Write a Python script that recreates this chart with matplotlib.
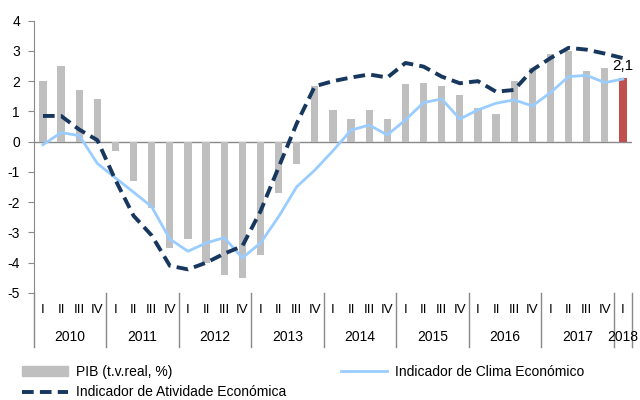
import numpy as np
import matplotlib.pyplot as plt
from matplotlib.lines import Line2D
from matplotlib.patches import Patch

plt.rcParams['font.family'] = ['Liberation Sans', 'DejaVu Sans']
plt.rcParams['axes.unicode_minus'] = False

# Dados (trimestrais, 2010 I - 2018 I)
anos = ['2010', '2011', '2012', '2013', '2014', '2015', '2016', '2017', '2018']
trimestres = ['I', 'II', 'III', 'IV']

pib = [2.0, 2.5, 1.7, 1.4, -0.3, -1.3, -2.2, -3.5, -3.2, -4.0, -4.4, -4.5,
       -3.75, -1.7, -0.75, 1.85, 1.05, 0.75, 1.05, 0.75, 1.9, 1.95, 1.85, 1.55,
       1.1, 0.9, 2.0, 2.45, 2.9, 3.0, 2.35, 2.45, 2.1]
clima = [-0.1, 0.3, 0.2, -0.72, -1.2, -1.67, -2.15, -3.22, -3.62, -3.35, -3.17, -3.84,
         -3.35, -2.48, -1.49, -0.94, -0.3, 0.38, 0.55, 0.22, 0.72, 1.29, 1.41, 0.75,
         1.05, 1.27, 1.38, 1.18, 1.62, 2.15, 2.19, 1.95, 2.07]
atividade = [0.85, 0.85, 0.4, 0.05, -1.27, -2.45, -3.1, -4.1, -4.22, -4.0, -3.7, -3.45,
             -2.3, -0.85, 0.6, 1.83, 2.0, 2.12, 2.22, 2.12, 2.6, 2.48, 2.15, 1.93,
             2.0, 1.65, 1.71, 2.37, 2.76, 3.1, 3.04, 2.91, 2.76]

cinza = '#BFBFBF'
vermelho = '#C0504D'
azul_claro = '#99CCFF'
azul_escuro = '#17375E'

n = len(pib)
x = np.arange(n)

fig = plt.figure(figsize=(6.4, 4.0), dpi=100)
ax = fig.add_axes([0.053, 0.2675, 0.9345, 0.681])

cores = [cinza] * (n - 1) + [vermelho]
ax.bar(x, pib, width=0.4, color=cores, zorder=2)
ax.plot(x, clima, color=azul_claro, lw=2, zorder=3)
ax.plot(x, atividade, color=azul_escuro, lw=2.8, dashes=(3, 1.6), zorder=4)

ax.annotate('2,1', (x[-1], pib[-1]), xytext=(0, 4), textcoords='offset points',
            ha='center', va='bottom', fontsize=11)

ax.set_xlim(-0.5, n - 0.5)
ax.set_ylim(-5, 4)
ax.set_yticks(range(-5, 5))
ax.tick_params(axis='y', labelsize=10, length=4, color='#898989', pad=6)
ax.set_xticks([])
for s in ['top', 'right', 'bottom']:
    ax.spines[s].set_visible(False)
ax.spines['left'].set_color('#898989')
ax.axhline(0, color='#898989', lw=1, zorder=1)

# eixo de categorias em dois níveis
trans = ax.get_xaxis_transform()
for i in range(n):
    ax.text(x[i], -0.064, trimestres[i % 4], transform=trans, ha='center',
            va='center', fontsize=9.5)
for k, ano in enumerate(anos):
    ini = 4 * k
    fim = min(4 * k + 4, n)
    ax.text((ini + fim - 1) / 2, -0.163, ano, transform=trans, ha='center',
            va='center', fontsize=10)
limites = list(np.arange(-0.5, n, 4)) + [n - 0.5]
for b in limites:
    ax.plot([b, b], [0, -0.2], transform=trans, color='#898989', lw=1, clip_on=False)

handles = [Patch(color=cinza),
           Line2D([], [], color=azul_escuro, lw=2.8, dashes=(3, 1.6)),
           Line2D([], [], color=azul_claro, lw=2)]
labels = ['PIB (t.v.real, %)', 'Indicador de Atividade Económica',
          'Indicador de Clima Económico']
fig.legend(handles, labels, ncol=2, loc='lower left', bbox_to_anchor=(0.015, -0.03),
           frameon=False, fontsize=10, handlelength=3.3, columnspacing=3.9,
           labelspacing=0.5, handletextpad=0.6)

fig.savefig('out.png', dpi=100)
